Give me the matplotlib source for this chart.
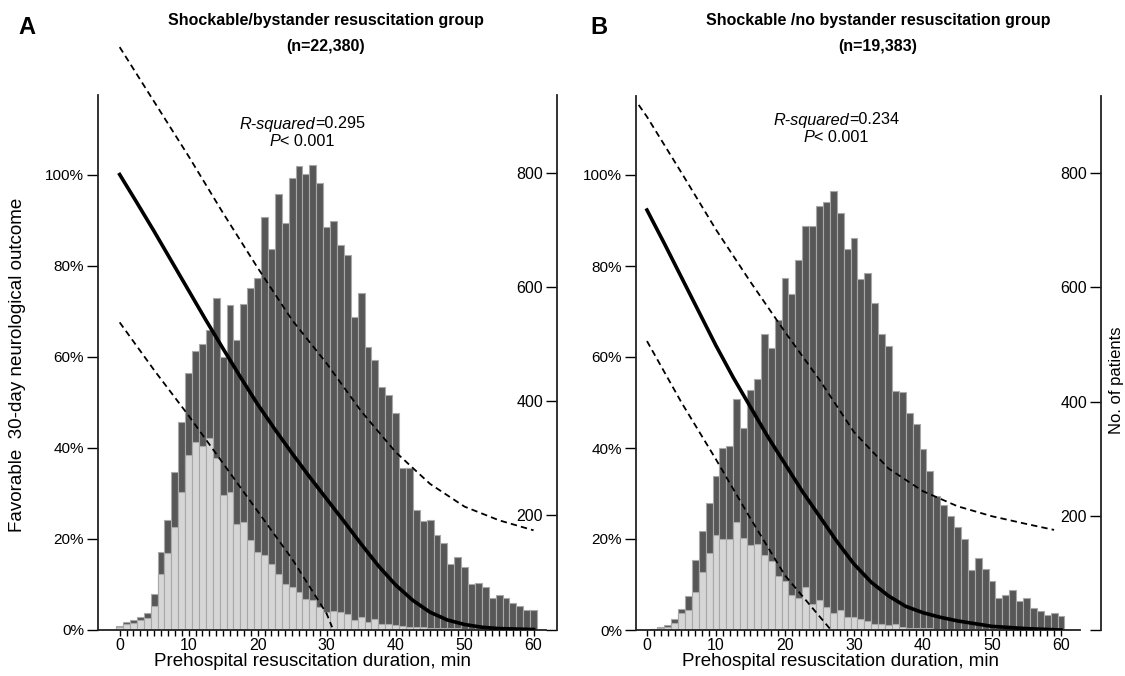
import matplotlib
matplotlib.use('Agg')
import matplotlib.pyplot as plt
import numpy as np

plt.rcParams['font.family'] = ['Liberation Sans', 'DejaVu Sans']

minutes = np.arange(61)

# Panel A: shockable / bystander resuscitation (patients per minute)
a_total = [7, 13, 16, 22, 29, 63, 136, 191, 276, 364,
           450, 487, 500, 525, 580, 477, 568, 507, 570, 598,
           615, 723, 666, 763, 712, 791, 812, 798, 814, 782,
           705, 716, 674, 656, 548, 589, 495, 472, 424, 411,
           380, 282, 283, 209, 190, 192, 165, 151, 115, 127,
           109, 79, 81, 75, 56, 61, 56, 46, 42, 35, 35]
a_fav = [5, 9, 12, 17, 20, 42, 98, 134, 180, 240,
         305, 329, 322, 335, 300, 235, 241, 185, 188, 156,
         135, 130, 115, 98, 80, 74, 65, 54, 51, 39,
         30, 33, 30, 27, 16, 22, 13, 19, 10, 10,
         8, 6, 5, 5, 4, 3, 3, 2, 2, 2,
         1, 1, 1, 1, 1, 1, 0, 0, 0, 0, 0]
a_fit_x = [0, 2.5, 5, 7.5, 10, 12.5, 15, 17.5, 20, 22.5, 25, 27.5, 30,
           32.5, 35, 37.5, 40, 42.5, 45, 47.5, 50, 52.5, 55, 60]
a_fit = [100, 93.8, 87.5, 81, 74.5, 68, 61.7, 55.5, 49.5, 44, 38.7, 33.6, 28.7,
         23.8, 18.8, 14, 9.8, 6.4, 3.8, 2.1, 1.1, 0.5, 0.2, 0]
a_up_x = [0, 5, 10, 15, 20, 25, 30, 35, 40, 45, 50, 55, 60]
a_up = [128, 116, 104, 91.5, 79.5, 68, 58.5, 48, 39, 32, 27, 24, 21.8]
a_lo_x = [0, 5, 10, 15, 20, 25, 30, 30.8]
a_lo = [67.5, 57, 47, 36.5, 26, 15.5, 3.5, 0.5]

# Panel B: shockable / no bystander resuscitation
b_total = [0, 1, 5, 9, 19, 36, 60, 123, 173, 223,
           269, 319, 322, 404, 354, 420, 439, 518, 494, 543,
           617, 588, 648, 708, 708, 743, 749, 769, 730, 668,
           687, 614, 625, 572, 518, 497, 418, 416, 380, 360,
           317, 278, 234, 219, 199, 181, 159, 105, 126, 106,
           85, 56, 61, 70, 51, 56, 38, 33, 27, 30, 24]
b_fav = [0, 1, 3, 6, 13, 29, 35, 67, 101, 135,
         167, 159, 159, 190, 161, 148, 150, 132, 120, 95,
         86, 62, 56, 75, 45, 52, 40, 30, 35, 22,
         22, 20, 15, 10, 10, 8, 10, 6, 4, 4,
         3, 3, 2, 2, 2, 1, 1, 1, 1, 1,
         1, 1, 0, 0, 0, 0, 0, 0, 0, 0, 0]
b_fit_x = [0, 2.5, 5, 7.5, 10, 12.5, 15, 17.5, 20, 22.5, 25, 27.5, 30,
           32.5, 35, 37.5, 40, 42.5, 45, 50, 55, 60]
b_fit = [92.3, 85, 77.5, 70, 62.5, 55.5, 49, 42.5, 36.5, 30.5, 25, 19.5, 14.5,
         10.5, 7.5, 5.2, 3.8, 2.8, 2, 0.8, 0.3, 0]
b_up_x = [-1.2, 0, 5, 10, 15, 20, 25, 30, 35, 40, 45, 50, 55, 59]
b_up = [115.4, 112.8, 100.5, 88, 76.5, 65.5, 55, 43.5, 35.5, 30.5, 27.2, 25, 23.3, 22]
b_lo_x = [0, 5, 10, 15, 20, 25, 26.5]
b_lo = [63.5, 50, 37.5, 24.5, 12, 3, 0.3]

pct_ticks = [0, 20, 40, 60, 80, 100]
count_ticks = [0, 200, 400, 600, 800]

W, H = 1125, 676
PX_PER_PCT = 4.55
PX_PER_COUNT = 0.571
fig = plt.figure(figsize=(W / 100, H / 100), dpi=100)


def panel(left, right, top, bottom, xlim, xend, total, fav, fit, upper, lower):
    ax = fig.add_axes([left / W, 1 - bottom / H, (right - left) / W, (bottom - top) / H])
    ax.bar(minutes, total, width=1.0, color='#575757', edgecolor='#a8a8a8', linewidth=0.8)
    ax.bar(minutes, fav, width=1.0, color='#d6d6d6', edgecolor='#a8a8a8', linewidth=0.8)
    ax.set_xlim(xlim)
    ax.set_ylim(0, (bottom - top) / PX_PER_COUNT)

    ax2 = ax.twinx()
    ax2.set_ylim(0, (bottom - top) / PX_PER_PCT)
    ax2.plot(fit[0], fit[1], color='black', lw=2.6)
    for xs, ys in (upper, lower):
        ax2.plot(xs, ys, color='black', lw=1.3, linestyle=(0, (3.5, 2.3)), clip_on=False)

    for s in ('top', 'left'):
        ax.spines[s].set_visible(False)
    for s in ('top', 'right', 'bottom'):
        ax2.spines[s].set_visible(False)
    ax.spines['bottom'].set_bounds(xlim[0], xend)
    for sp in (ax.spines['bottom'], ax.spines['right'], ax2.spines['left']):
        sp.set_linewidth(1.3)
        sp.set_color('#222222')

    ax.set_xticks(range(0, 61, 10))
    ax.set_xticks(range(0, 61), minor=True)
    ax.tick_params(axis='x', which='both', direction='out', length=4, width=1,
                   pad=2, labelsize=11.5)

    ax.yaxis.tick_right()
    ax.set_yticks(count_ticks)
    ax.set_yticklabels([''] + [str(v) for v in count_ticks[1:]])
    ax.tick_params(axis='y', direction='in', length=8, width=1, pad=-10,
                   labelsize=11.5, right=True, left=False,
                   labelright=True, labelleft=False)
    for lab in ax.get_yticklabels():
        lab.set_horizontalalignment('right')

    ax2.yaxis.tick_left()
    ax2.set_yticks(pct_ticks)
    ax2.set_yticklabels([f'{v}%' for v in pct_ticks])
    ax2.tick_params(axis='y', direction='out', length=8, width=1, pad=2,
                    labelsize=11, left=True, right=False,
                    labelleft=True, labelright=False)
    return ax, ax2


panel(98, 557, 95, 629.5, (-3.14, 63.4), 61.8, a_total, a_fav,
      (a_fit_x, a_fit), (a_up_x, a_up), (a_lo_x, a_lo))
panel(636, 1101, 96, 630, (-1.59, 65.8), 62.8, b_total, b_fav,
      (b_fit_x, b_fit), (b_up_x, b_up), (b_lo_x, b_lo))


def ftext(x, y, s, **kw):
    return fig.text(x / W, 1 - y / H, s, **kw)


ftext(27, 28, 'A', size=17, weight='bold', ha='center', va='center')
ftext(599, 28, 'B', size=17, weight='bold', ha='center', va='center')

ftext(326, 20, 'Shockable/bystander resuscitation group', size=11.5, weight='bold',
      ha='center', va='center')
ftext(326, 46, '(n=22,380)', size=11.5, weight='bold', ha='center', va='center')
ftext(878, 20, 'Shockable /no bystander resuscitation group', size=11.5, weight='bold',
      ha='center', va='center')
ftext(878, 46, '(n=19,383)', size=11.5, weight='bold', ha='center', va='center')

renderer = fig.canvas.get_renderer()


def stat(cx, y, ital, rest):
    # italic part followed by plain part, the pair centred on cx
    t1 = ftext(0, y, ital, size=11.7, style='italic', ha='left', va='center')
    t2 = ftext(0, y, rest, size=11.7, ha='left', va='center')
    w1 = t1.get_window_extent(renderer).width
    w2 = t2.get_window_extent(renderer).width
    left = cx - (w1 + w2) / 2
    t1.set_x(left / W)
    t2.set_x((left + w1) / W)


stat(302, 124, 'R-squared', '=0.295')
stat(302, 141, 'P', '< 0.001')
stat(836, 120, 'R-squared', '=0.234')
stat(836, 138, 'P', '< 0.001')

ftext(313, 662, 'Prehospital resuscitation duration, min', size=13.5,
      ha='center', va='center')
ftext(841, 662, 'Prehospital resuscitation duration, min', size=13.5,
      ha='center', va='center')
ftext(18, 365, 'Favorable  30-day neurological outcome', size=13.5, rotation=90,
      ha='center', va='center')
ftext(1116, 380, 'No. of patients', size=12, rotation=90, ha='center', va='center')

fig.savefig('out.png', dpi=100)
